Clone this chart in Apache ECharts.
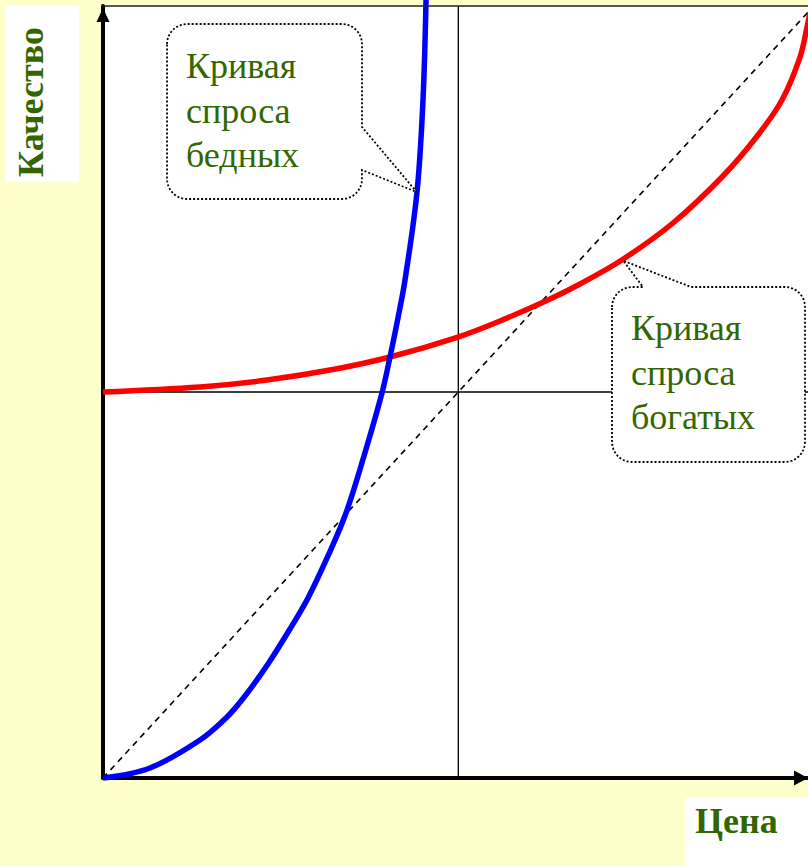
<!DOCTYPE html>
<html>
<head>
<meta charset="utf-8">
<script src="https://cdn.jsdelivr.net/npm/echarts@6/dist/echarts.min.js"></script>
<style>
  html, body { margin: 0; padding: 0; background: #ffffcc; }
  #chart { width: 808px; height: 866px; }
</style>
</head>
<body>
<div id="chart"></div>
<script>
// curve of the poor: price / quality (0..100 scale)
const poorPrice   = [0, 6.67, 13.76, 17.59, 20.14, 23.40, 26.52, 29.08, 31.91, 34.47, 37.02, 39.57, 40.71, 41.84, 42.84, 44.54, 45.39, 45.82];
const poorQuality = [0, 1.30, 4.92, 7.9, 10.62, 14.77, 19.3, 23.32, 28.76, 34.33, 41.71, 49.87, 54.53, 59.59, 64.51, 75.91, 87.82, 100.8];

// curve of the rich
const richPrice   = [0, 13.76, 23.26, 32.62, 40.71, 50.35, 56.31, 63.12, 67.66, 73.76, 80.85, 87.94, 92.91, 96.31, 98.87, 99.86, 100.28];
const richQuality = [50.0, 50.65, 51.55, 52.91, 54.53, 57.12, 59.2, 61.92, 63.99, 67.2, 71.89, 77.98, 83.29, 87.82, 93.39, 97.28, 99.2];

const diagonal = [[0, 0], [100, 99.2]];
const midPrice = 50.4;
const midQuality = 50;

const poorTip = [44.5, 75.9];
const richTip = [73.8, 67.0];

const labelPoor = ['Кривая', 'спроса', 'бедных'];
const labelRich = ['Кривая', 'спроса', 'богатых'];
const axisX = 'Цена';
const axisY = 'Качество';

const green = '#336600';
const serif = '"Liberation Serif", "Times New Roman", serif';

const zip = (xs, ys) => xs.map((x, i) => [x, ys[i]]);

const chart = echarts.init(document.getElementById('chart'), null, { renderer: 'svg' });

const option = {
  backgroundColor: '#ffffcc',
  animation: false,
  grid: {
    left: 103, right: 0, top: 6, bottom: 88,
    show: true, backgroundColor: '#ffffff', borderWidth: 0
  },
  xAxis: {
    type: 'value', min: 0, max: 100,
    axisLine: {
      lineStyle: { color: '#000', width: 4 },
      symbol: ['none', 'triangle'], symbolSize: [15, 14], symbolOffset: [0, -7]
    },
    axisTick: { show: false }, axisLabel: { show: false }, splitLine: { show: false }
  },
  yAxis: {
    type: 'value', min: 0, max: 100,
    axisLine: {
      lineStyle: { color: '#000', width: 4 },
      symbol: ['none', 'triangle'], symbolSize: [13, 14], symbolOffset: [0, -9]
    },
    axisTick: { show: false }, axisLabel: { show: false }, splitLine: { show: false }
  },
  series: [
    {
      type: 'line', z: 1, symbol: 'none', silent: true,
      data: [[midPrice, 0], [midPrice, 100]],
      lineStyle: { color: '#000', width: 1.3 }
    },
    {
      type: 'line', z: 1, symbol: 'none', silent: true,
      data: [[0, midQuality], [100, midQuality]],
      lineStyle: { color: '#000', width: 1.3 }
    },
    {
      type: 'line', z: 2, symbol: 'none', silent: true,
      data: diagonal,
      lineStyle: { color: '#000', width: 1.6, type: [6, 5] }
    },
    {
      name: 'rich', type: 'line', z: 3, symbol: 'none', smooth: 0.35, clip: false,
      data: zip(richPrice, richQuality),
      lineStyle: { color: '#ff0000', width: 5.5 }
    },
    {
      name: 'poor', type: 'line', z: 4, symbol: 'none', smooth: 0.35, clip: false,
      data: zip(poorPrice, poorQuality),
      lineStyle: { color: '#0000ff', width: 5.5 }
    }
  ]
};
chart.setOption(option);

// rounded callout box as a polygon; side 'right' or 'top' carries the pointer
function arc(cx, cy, r, a0, a1) {
  const pts = [];
  for (let i = 0; i <= 8; i++) {
    const a = a0 + (a1 - a0) * i / 8;
    pts.push([cx + r * Math.cos(a), cy + r * Math.sin(a)]);
  }
  return pts;
}
function callout(x0, y0, x1, y1, r, side, a, b, tip) {
  const P = Math.PI;
  let pts = arc(x0 + r, y0 + r, r, P, 1.5 * P);
  if (side === 'top') pts.push([a, y0], tip, [b, y0]);
  pts = pts.concat(arc(x1 - r, y0 + r, r, 1.5 * P, 2 * P));
  if (side === 'right') pts.push([x1, a], tip, [x1, b]);
  pts = pts.concat(arc(x1 - r, y1 - r, r, 0, 0.5 * P));
  pts = pts.concat(arc(x0 + r, y1 - r, r, 0.5 * P, P));
  return pts;
}

const tp = chart.convertToPixel({ gridIndex: 0 }, poorTip);
const tr = chart.convertToPixel({ gridIndex: 0 }, richTip);
const dotted = { fill: '#fff', stroke: '#000', lineWidth: 1.8, lineDash: [2, 2] };
const calloutText = { fill: green, font: '36px ' + serif, lineHeight: 44.5 };

chart.setOption({
  graphic: [
    { type: 'line', z: 100, shape: { x1: 101, y1: 6, x2: 808, y2: 6 }, style: { stroke: '#222', lineWidth: 1.5 } },
    { type: 'polygon', z: 100, shape: { points: callout(167, 24, 362, 199, 20, 'right', 127, 170, tp) }, style: dotted },
    { type: 'text', z: 101, x: 186, y: 44, style: Object.assign({ text: labelPoor.join('\n') }, calloutText) },
    { type: 'polygon', z: 100, shape: { points: callout(612, 287, 805, 462, 20, 'top', 643, 691, tr) }, style: dotted },
    { type: 'text', z: 101, x: 631, y: 306, style: Object.assign({ text: labelRich.join('\n') }, calloutText) },
    { type: 'rect', z: 100, shape: { x: 6, y: 6, width: 73, height: 176 }, style: { fill: '#fff' } },
    {
      type: 'text', z: 101, x: 31, y: 102, rotation: Math.PI / 2,
      style: { text: axisY, fill: green, font: 'bold 36px ' + serif, align: 'center', verticalAlign: 'middle' }
    },
    { type: 'rect', z: 100, shape: { x: 685, y: 798, width: 123, height: 68 }, style: { fill: '#fff' } },
    {
      type: 'text', z: 101, x: 695, y: 821,
      style: { text: axisX, fill: green, font: 'bold 36px ' + serif, align: 'left', verticalAlign: 'middle' }
    }
  ]
});
</script>
</body>
</html>
